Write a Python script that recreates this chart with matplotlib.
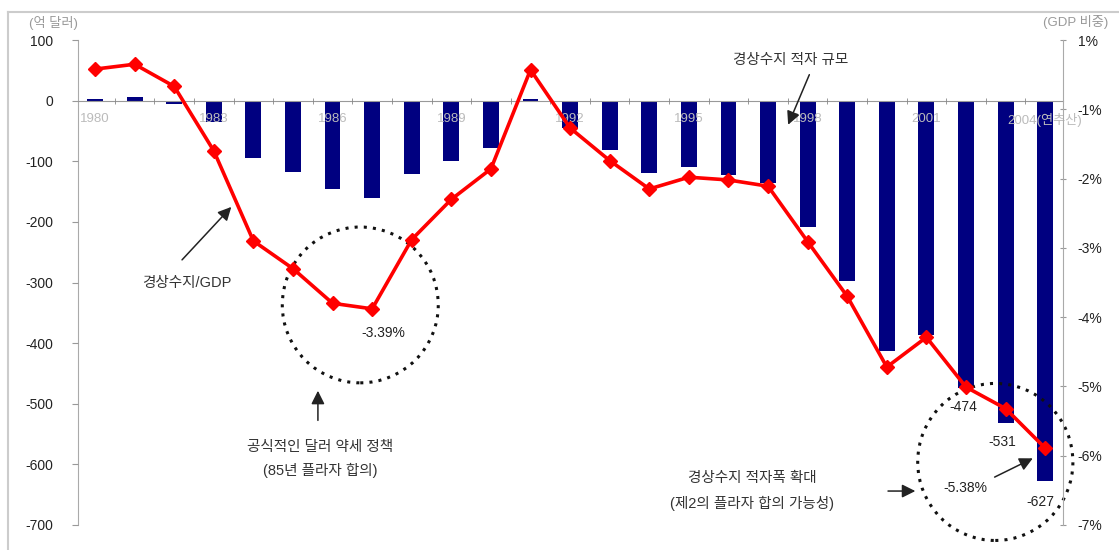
import numpy as np
import matplotlib
matplotlib.use('Agg')
import matplotlib.pyplot as plt
from matplotlib.patches import Ellipse
from matplotlib.lines import Line2D

plt.rcParams['font.family'] = ['Liberation Sans', 'Noto Sans CJK KR', 'DejaVu Sans']

# data
years = list(range(1980, 2005))
deficit = [2, 6, -5, -35, -95, -117, -146, -160, -121, -100, -78, 3,
           -45, -82, -119, -109, -122, -136, -208, -298, -413, -386,
           -474, -531, -627]          # 경상수지 (억 달러)
ca_gdp = [-0.42, -0.35, -0.67, -1.60, -2.90, -3.30, -3.80, -3.88, -2.88,
          -2.30, -1.86, -0.43, -1.27, -1.74, -2.15, -1.98, -2.02, -2.11,
          -2.91, -3.70, -4.72, -4.29, -5.01, -5.32, -5.89]   # GDP 비중 (%)
xlabel_years = ['1980', '1983', '1986', '1989', '1992', '1995', '1998',
                '2001', '2004(연추산)']
left_ticks = [100, 0, -100, -200, -300, -400, -500, -600, -700]
right_ticks = [0, -1, -2, -3, -4, -5, -6, -7]
right_labels = ['1%', '-1%', '-2%', '-3%', '-4%', '-5%', '-6%', '-7%']

x = np.arange(len(years))

fig = plt.figure(figsize=(11.19, 5.5), dpi=100)
ax = fig.add_axes([78/1119, 1-525/550, (1063-78)/1119, (525-40)/550])
ax.set_axisbelow(False)

ax.bar(x, deficit, width=0.4, color='#000080', zorder=1)
ax.set_xlim(-0.43, 24.45)
ax.set_ylim(-700, 100)
ax.set_yticks(left_ticks)
ax.set_yticklabels([str(t) for t in left_ticks], fontsize=10, color='#222222')
ax.tick_params(axis='y', direction='out', length=4, color='#999999', pad=14)

for s in ['top', 'right']:
    ax.spines[s].set_visible(False)
ax.spines['left'].set_color('#aaaaaa')
ax.spines['bottom'].set_position(('data', 0))
ax.spines['bottom'].set_color('#999999')

ax.set_xticks(x[::3])
ax.set_xticklabels(xlabel_years, fontsize=9.5, color='#bbbbbb')
ax.set_xticks(x[:-1] + 0.5, minor=True)
ax.tick_params(axis='x', which='major', length=0, pad=9)
ax.tick_params(axis='x', which='minor', direction='inout', length=5, color='#888888')

ax2 = ax.twinx()
ax2.set_ylim(-7, 0)
ax2.set_yticks(right_ticks)
ax2.set_yticklabels(right_labels, fontsize=10, color='#222222')
ax2.tick_params(axis='y', direction='inout', length=5, color='#999999', pad=8)
for s in ['top', 'left', 'bottom']:
    ax2.spines[s].set_visible(False)
ax2.spines['right'].set_color('#aaaaaa')
ax2.plot(x, ca_gdp, color='#ff0000', lw=2.6, marker='D', markersize=7.5,
         markerfacecolor='#ff0000', markeredgecolor='#ff0000', zorder=3)

# annotations (left-axis data coordinates)
txt = dict(fontsize=10.5, color='#333333', ha='center', va='center', zorder=5)
num = dict(fontsize=10, color='#222222', ha='center', va='center', zorder=6)
arr = dict(arrowstyle='-|>', color='#222222', lw=1.1, mutation_scale=20)
dots = dict(fill=False, edgecolor='#111111', lw=2.2, linestyle=(0, (1, 2)),
            zorder=4, clip_on=False)

ax.text(17.56, 67, '경상수지 적자 규모', **txt)
ax.annotate('', xy=(17.48, -44), xytext=(18.07, 47), arrowprops=arr, zorder=5)

ax.text(2.32, -301, '경상수지/GDP', **txt)
ax.annotate('', xy=(3.49, -172), xytext=(2.15, -266), arrowprops=arr, zorder=5)

ax.add_patch(Ellipse((6.70, -337), 3.94, 257, **dots))
ax.text(7.28, -383, '-3.39%', **num)
ax.annotate('', xy=(5.63, -474), xytext=(5.63, -532), arrowprops=arr, zorder=5)
ax.text(5.68, -572, '공식적인 달러 약세 정책', **txt)
ax.text(5.68, -610, '(85년 플라자 합의)', **txt)

ax.add_patch(Ellipse((22.74, -596), 3.92, 259, **dots))
ax.text(21.93, -505, '-474', **num)
ax.text(22.92, -563, '-531', **num)
ax.text(23.88, -662, '-627', **num)
ax.text(21.98, -639, '-5.38%', **num)
ax.annotate('', xy=(23.75, -588), xytext=(22.66, -623), arrowprops=arr, zorder=5)
ax.text(16.6, -623, '경상수지 적자폭 확대', **txt)
ax.text(16.6, -664, '(제2의 플라자 합의 가능성)', **txt)
ax.annotate('', xy=(20.79, -644), xytext=(19.96, -644), arrowprops=arr, zorder=5)

# unit labels
fig.text(53/1119, 1-23/550, '(억 달러)', fontsize=9.5, color='#999999', ha='center', va='center')
fig.text(1076/1119, 1-22/550, '(GDP 비중)', fontsize=9.5, color='#999999', ha='center', va='center')

# outer frame
fig.add_artist(Line2D([8/1119, 1], [1-12/550, 1-12/550], color='#cccccc', lw=1.5))
fig.add_artist(Line2D([8/1119, 8/1119], [0, 1-12/550], color='#cccccc', lw=1.5))

fig.savefig('out.png', dpi=100)
